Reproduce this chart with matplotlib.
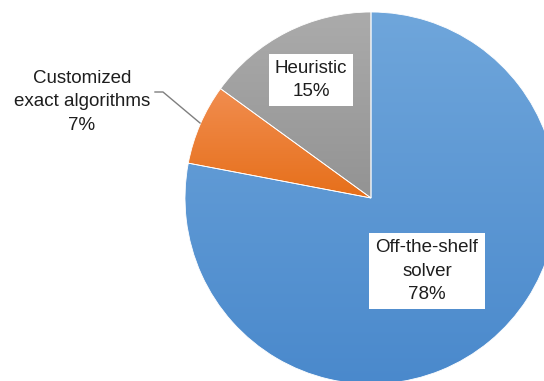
import numpy as np
import matplotlib.pyplot as plt
from matplotlib.colors import LinearSegmentedColormap

# data
labels = ['Off-the-shelf\nsolver', 'Customized\nexact algorithms', 'Heuristic']
shares = [78, 7, 15]
top_colors = ['#6fa6db', '#f18d4f', '#ababab']
bot_colors = ['#4a89cc', '#e66f1a', '#939393']

fig = plt.figure(figsize=(5.44, 3.81), dpi=100)
ax = fig.add_axes([0, 0, 1, 1])

cx, cy, r = 371, 381 - 198, 186
wedges, _ = ax.pie(shares, startangle=90, counterclock=False, center=(cx, cy),
                   radius=r, colors=['none'] * 3,
                   wedgeprops=dict(edgecolor='white', linewidth=0.6))
ax.set_xlim(0, 544)
ax.set_ylim(0, 381)
ax.set_aspect('equal')
ax.axis('off')

# vertical gradient fill in each slice
for w, c0, c1 in zip(wedges, top_colors, bot_colors):
    cmap = LinearSegmentedColormap.from_list('g', [c1, c0])
    bb = w.get_path().get_extents(w.get_patch_transform())
    grad = np.linspace(0, 1, 256).reshape(-1, 1)
    im = ax.imshow(grad, cmap=cmap, origin='lower', aspect='auto',
                   extent=[bb.x0, bb.x1, bb.y0, bb.y1], zorder=0.5)
    im.set_clip_path(w)
ax.set_xlim(0, 544)
ax.set_ylim(0, 381)

font = dict(family='Liberation Sans', fontsize=13.5, color='#1e1e1e',
            ha='center', va='center', linespacing=1.48)
box = dict(boxstyle='square,pad=0.33', fc='white', ec='none')

ax.text(427, 381 - 271, f'{labels[0]}\n{shares[0]}%', bbox=box, **font)
ax.text(311, 381 - 80, f'{labels[2]}\n{shares[2]}%', bbox=box, **font)
ax.text(82, 381 - 102, f'{labels[1]}\n{shares[1]}%', **font)
ax.plot([155, 163, 200], [381 - 92, 381 - 92, 381 - 123], color='#7f7f7f', lw=1)

fig.savefig('out.png', dpi=100)
